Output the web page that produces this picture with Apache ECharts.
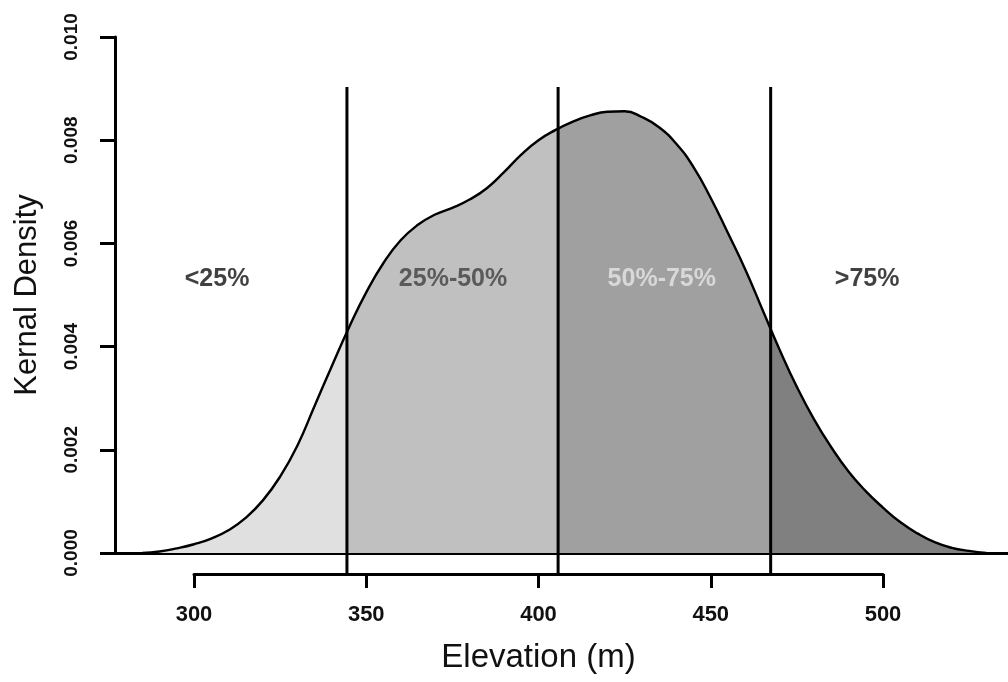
<!DOCTYPE html>
<html>
<head>
<meta charset="utf-8">
<title>Kernal Density</title>
<script src="https://cdn.jsdelivr.net/npm/echarts@6/dist/echarts.min.js"></script>
<style>
  html, body { margin: 0; padding: 0; background: #fff; }
  #chart { width: 1008px; height: 682px; }
</style>
</head>
<body>
<div id="chart"></div>
<script>
// elevation (m) and kernel density
var elevation = [285, 290, 295, 300, 305, 310, 315, 320, 325, 330, 335, 340, 345, 350, 355,
  360, 365, 370, 375, 380, 385, 390, 395, 400, 405, 410, 415, 420, 425, 430, 435, 440,
  445, 450, 455, 460, 465, 470, 475, 480, 485, 490, 495, 500, 505, 510, 515, 520, 525, 530];
var density = [0, 0.00003, 0.00009, 0.00017, 0.00028, 0.00044, 0.00068, 0.00102, 0.00148, 0.00208,
  0.00285, 0.00362, 0.00437, 0.00505, 0.00562, 0.00606, 0.00636, 0.00656, 0.00669, 0.00685,
  0.00707, 0.00738, 0.00772, 0.008, 0.0082, 0.00836, 0.00848, 0.00855, 0.00856, 0.00845,
  0.00825, 0.00793, 0.00748, 0.00688, 0.0062, 0.0055, 0.00472, 0.00394, 0.00322, 0.00259,
  0.00205, 0.00158, 0.0012, 0.00088, 0.0006, 0.00038, 0.00021, 0.0001, 0.00004, 0];

// quartiles of elevation and the density where the curve meets them
var quartiles = [344.4, 405.7, 467.4];
var quartileDensity = [0.00428, 0.00822, 0.00433];
var quartileTop = 0.00903;

var regionNames = ['<25%', '25%-50%', '50%-75%', '>75%'];
var regionColors = ['#e0e0e0', '#c0c0c0', '#a0a0a0', '#808080'];
var labelColors = ['#111111', '#404040', '#e6e6e6', '#111111'];
var labelX = [306.7, 375.2, 435.8, 495.4];
var labelY = 0.0053;

var yTicks = [0, 0.002, 0.004, 0.006, 0.008, 0.010];
var xTicks = [300, 350, 400, 450, 500];

var points = elevation.map(function (x, i) { return [x, density[i]]; });

var bounds = [-Infinity].concat(quartiles, [Infinity]);
var areaSeries = regionNames.map(function (name, i) {
  var seg = points.filter(function (p) { return p[0] > bounds[i] + 1 && p[0] < bounds[i + 1] - 1; });
  if (i > 0) seg.unshift([quartiles[i - 1], quartileDensity[i - 1]]);
  if (i < quartiles.length) seg.push([quartiles[i], quartileDensity[i]]);
  return {
    name: name,
    type: 'line',
    xAxisIndex: 0, yAxisIndex: 0,
    smooth: true,
    symbol: 'none',
    silent: true,
    lineStyle: { width: 0 },
    areaStyle: { color: regionColors[i], opacity: 1 },
    data: seg,
    z: 1
  };
});

var outline = {
  type: 'line',
  xAxisIndex: 0, yAxisIndex: 0,
  smooth: true,
  symbol: 'none',
  silent: true,
  lineStyle: { color: '#000', width: 2.4 },
  data: points,
  z: 3
};

// quartile lines run down to the lower axis, so no clipping
var qLines = quartiles.map(function (q) {
  return {
    type: 'line',
    xAxisIndex: 0, yAxisIndex: 0,
    clip: false,
    symbol: 'none',
    silent: true,
    lineStyle: { color: '#000', width: 3 },
    data: [[q, -0.00041], [q, quartileTop]],
    z: 4
  };
});

var labels = {
  type: 'scatter',
  xAxisIndex: 0, yAxisIndex: 0,
  symbolSize: 0,
  silent: true,
  data: regionNames.map(function (name, i) {
    return {
      value: [labelX[i], labelY],
      label: {
        show: true,
        position: 'inside',
        formatter: name,
        color: labelColors[i],
        fontSize: 25,
        fontWeight: 'bold',
        fontFamily: 'Liberation Sans, Arial, sans-serif'
      }
    };
  }),
  z: 5
};

var chart = echarts.init(document.getElementById('chart'));
chart.setOption({
  backgroundColor: '#fff',
  animation: false,
  textStyle: { fontFamily: 'Liberation Sans, Arial, sans-serif' },
  grid: [
    { left: 115, right: 0, top: 37, bottom: 129 },
    { left: 194, right: 125, top: 37, bottom: 108 }
  ],
  xAxis: [
    {
      gridIndex: 0, type: 'value', min: 277.07, max: 536.3,
      axisLine: { show: true, onZero: false, lineStyle: { color: '#000', width: 3 } },
      axisTick: { show: false },
      axisLabel: { show: false },
      splitLine: { show: false }
    },
    {
      gridIndex: 1, type: 'value', min: xTicks[0], max: xTicks[xTicks.length - 1], interval: 50,
      name: 'Elevation (m)',
      nameLocation: 'middle',
      nameGap: 67,
      nameTextStyle: { fontSize: 33, color: '#111' },
      axisLine: { show: true, onZero: false, lineStyle: { color: '#000', width: 3 } },
      axisTick: { show: true, length: 14, lineStyle: { color: '#000', width: 3 } },
      axisLabel: { margin: 30, fontSize: 22, fontWeight: 'bold', color: '#111' },
      splitLine: { show: false }
    }
  ],
  yAxis: [
    {
      gridIndex: 0, type: 'value', min: yTicks[0], max: yTicks[yTicks.length - 1], interval: 0.002,
      name: 'Kernal Density',
      nameLocation: 'middle',
      nameGap: 72,
      nameTextStyle: { fontSize: 31, color: '#111' },
      axisLine: { show: true, lineStyle: { color: '#000', width: 3 } },
      axisTick: { show: true, length: 15, lineStyle: { color: '#000', width: 3 } },
      axisLabel: {
        rotate: 90, margin: 34, fontSize: 19, fontWeight: 'bold', color: '#111',
        formatter: function (v) { return v.toFixed(3); }
      },
      splitLine: { show: false }
    },
    { gridIndex: 1, type: 'value', min: 0, max: 1, show: false }
  ],
  series: areaSeries.concat([outline], qLines, [labels])
});
</script>
</body>
</html>
